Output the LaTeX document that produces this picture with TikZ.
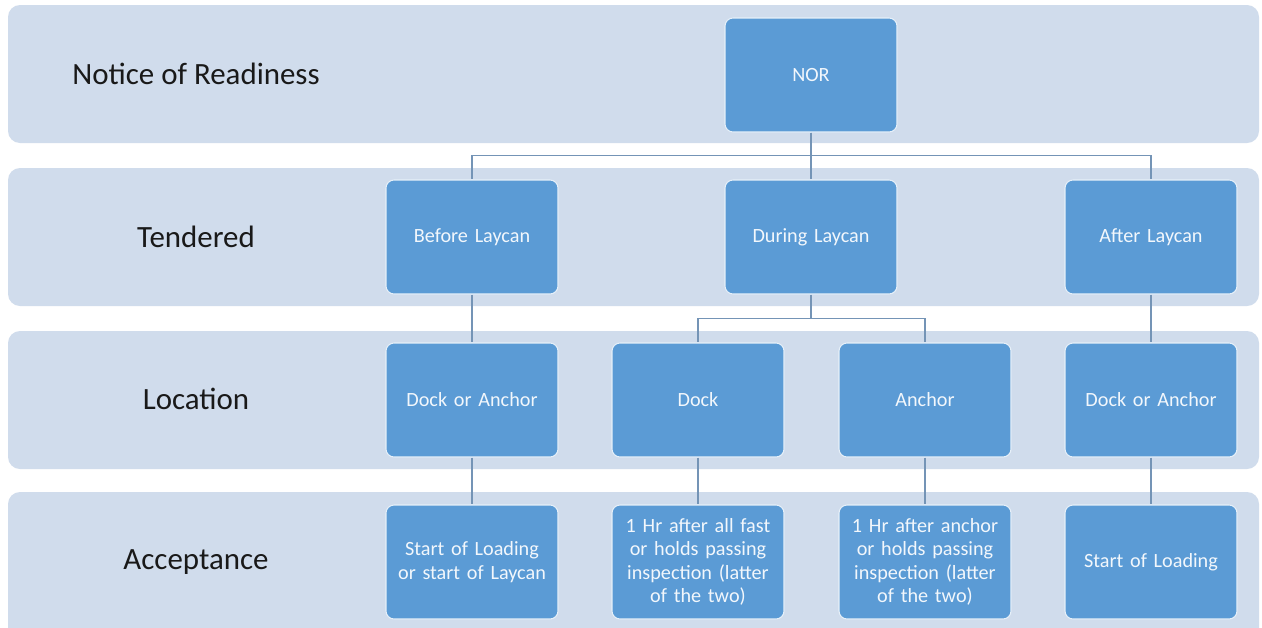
\documentclass[tikz,border=0pt]{standalone}
\usepackage{fontspec}
\setmainfont{Carlito}
\definecolor{band_blue}{HTML}{D0DCEC}
\definecolor{box_blue}{HTML}{5B9BD5}
\definecolor{link_grey}{HTML}{7494B6}
\tikzset{
  rowlabel/.style={font=\fontsize{17.6}{21}\selectfont, text=black!90},
  nodebox/.style={fill=box_blue, draw=white!85!box_blue, line width=0.6pt,
    rounded corners=0.16cm, minimum width=3.44cm, minimum height=2.28cm,
    text width=3.2cm, align=center, text=white!92!box_blue,
    font=\fontsize{11.5}{13.4}\selectfont},
  link/.style={draw=link_grey, line width=0.6pt}
}
\begin{document}
\begin{tikzpicture}[x=0.2mm, y=-0.2mm]
    % Canvas: 1262 x 627 units, y counts downwards
    \useasboundingbox (0,0) rectangle (1262,627);
    \fill[white] (0,0) rectangle (1262,627);

    % Background bands, one per level
    \foreach \top/\bot in {5/143, 168/306, 331/469, 492/640} {
      \fill[band_blue, rounded corners=0.24cm] (8,\top) rectangle (1259,\bot);
    }

    % Level names
    \node[rowlabel] (lnor) at (196,74) {Notice of Readiness};
    \node[rowlabel] (ltend) at (196,237) {Tendered};
    \node[rowlabel] (lloc) at (196,399) {Location};
    \node[rowlabel] (lacc) at (196,562) {Acceptance};

    % Level 1
    \node[nodebox] (nor) at (811,75) {NOR};

    % Level 2
    \node[nodebox] (before) at (472,237) {Before Laycan};
    \node[nodebox] (during) at (811,237) {During Laycan};
    \node[nodebox] (after) at (1151,237) {After Laycan};

    % Level 3
    \node[nodebox] (locbefore) at (472,400) {Dock or Anchor};
    \node[nodebox] (dock) at (698,400) {Dock};
    \node[nodebox] (anchor) at (925,400) {Anchor};
    \node[nodebox] (locafter) at (1151,400) {Dock or Anchor};

    % Level 4
    \node[nodebox] (accbefore) at (472,562) {Start of Loading\\or start of Laycan};
    \node[nodebox] (accdock) at (698,562) {1 Hr after all fast\\or holds passing\\inspection (latter\\of the two)};
    \node[nodebox] (accanchor) at (925,562) {1 Hr after anchor\\or holds passing\\inspection (latter\\of the two)};
    \node[nodebox] (accafter) at (1151,562) {Start of Loading};

    % Connectors
    \draw[link] (nor.south) -- ++(0,23) -| (before.north);
    \draw[link] (nor.south) -- (during.north);
    \draw[link] (nor.south) ++(0,23) -| (after.north);
    \draw[link] (during.south) -- ++(0,24) -| (dock.north);
    \draw[link] (during.south) ++(0,24) -| (anchor.north);
    \draw[link] (before) -- (locbefore);
    \draw[link] (after) -- (locafter);
    \draw[link] (locbefore) -- (accbefore);
    \draw[link] (dock) -- (accdock);
    \draw[link] (anchor) -- (accanchor);
    \draw[link] (locafter) -- (accafter);
\end{tikzpicture}
\end{document}
